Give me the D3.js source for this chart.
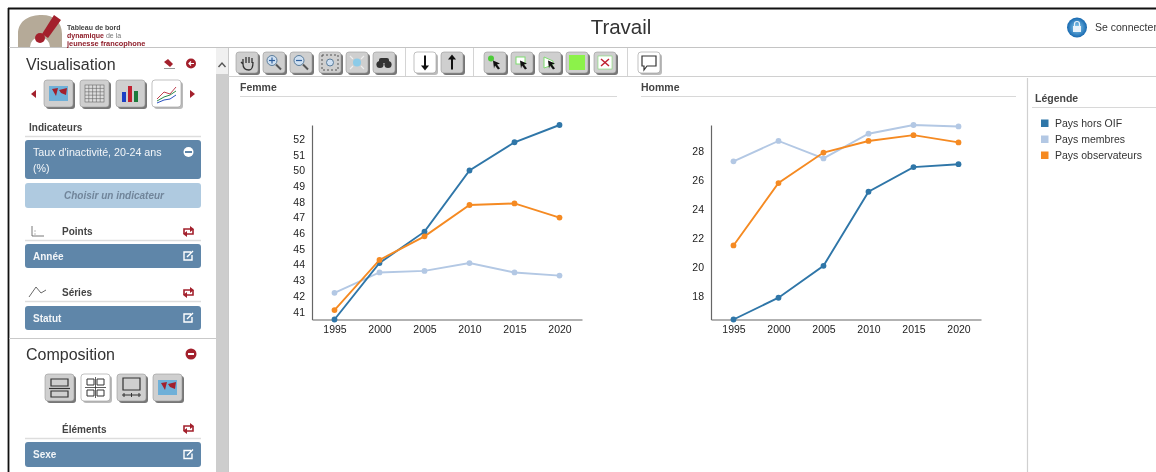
<!DOCTYPE html>
<html>
<head>
<meta charset="utf-8">
<script src="https://cdn.jsdelivr.net/npm/d3@7"></script>
<style>
html, body { margin: 0; padding: 0; background: #fff; overflow: hidden; }
svg { filter: blur(0.35px); }
text { font-family: "Liberation Sans", Arial, sans-serif; fill: #333; }
.tick text { font-size: 10.5px; fill: #222; -webkit-text-stroke: 0.25px #222; }
</style>
</head>
<body>
<script>
var width = 1156,
    height = 472;

// chart data
var years = ["1995", "2000", "2005", "2010", "2015", "2020"];
var seriesNames = ["Pays hors OIF", "Pays membres", "Pays observateurs"];
var seriesColors = ["#2f76a8", "#b3c8e4", "#f58a22"];

var femmeHors = [40.5, 44.1, 46.1, 50, 51.8, 52.9];
var femmeMembres = [42.2, 43.5, 43.6, 44.1, 43.5, 43.3];
var femmeObs = [41.1, 44.3, 45.8, 47.8, 47.9, 47];
var femmeTicks = [41, 42, 43, 44, 45, 46, 47, 48, 49, 50, 51, 52];

var hommeHors = [16.4, 17.9, 20.1, 25.2, 26.9, 27.1];
var hommeMembres = [27.3, 28.7, 27.5, 29.2, 29.8, 29.7];
var hommeObs = [21.5, 25.8, 27.9, 28.7, 29.1, 28.6];
var hommeTicks = [18, 20, 22, 24, 26, 28];

var svg = d3.select("body").append("svg")
    .attr("width", width)
    .attr("height", height)
    .style("display", "block");

// page frame
hline(8, 8.5, width, "#111", 1.8);
vline(8.5, 8, height, "#111", 1.8);
hline(9, 47.5, width, "#c4c4c4", 1.2);

// scrollbar column
rect(216, 48, 12, 26, "#f0f0f0");
rect(216, 74, 12, 398, "#cdcdcd");
vline(228.5, 48, height, "#c9c9c9", 1);
svg.append("path").attr("d", "M218.5 67 L222 63 L225.5 67")
    .attr("fill", "none").attr("stroke", "#555").attr("stroke-width", 1.4);

drawLogo();
drawTitleBar();
drawSidebar();
drawToolbar();

// the two panels
panel("Femme", 240, 617, 312, [40.5, 52.9], femmeTicks, [femmeHors, femmeMembres, femmeObs]);
panel("Homme", 641, 1016, 711, [16.4, 29.8], hommeTicks, [hommeHors, hommeMembres, hommeObs]);

// legend
vline(1027.5, 78, height, "#d0d0d0", 1.2);
label(1035, 102, "Légende", 10.5, "bold");
hline(1032, 107.5, width, "#d8d8d8", 1);
var legend = svg.append("g").selectAll("g")
    .data(seriesNames)
    .enter().append("g")
    .attr("transform", function(d, i) { return "translate(1041," + (119.5 + i * 16) + ")"; });
legend.append("rect")
    .attr("width", 7.5).attr("height", 7.5)
    .attr("fill", function(d, i) { return seriesColors[i]; });
legend.append("text")
    .attr("x", 14).attr("y", 7.5)
    .attr("font-size", 10.5)
    .text(function(d) { return d; });

function panel(title, x0, x1, axisX, domain, ticks, values) {
    var top = 125, bottom = 319.5, axisW = 270;

    label(x0, 91, title, 10.5, "bold");
    hline(x0, 96.5, x1, "#d8d8d8", 1);

    var x = d3.scalePoint().domain(years).range([axisX, axisX + axisW]).padding(0.5);
    var y = d3.scaleLinear().domain(domain).range([bottom, top]);

    var g = svg.append("g");

    g.append("g")
        .attr("transform", "translate(0," + bottom + ")")
        .call(d3.axisBottom(x).tickSize(0).tickPadding(6))
        .call(styleAxis);
    g.append("g")
        .attr("transform", "translate(" + axisX + ",0)")
        .call(d3.axisLeft(y).tickValues(ticks).tickSize(0).tickPadding(7).tickFormat(d3.format("d")))
        .call(styleAxis);

    var line = d3.line()
        .x(function(d, i) { return x(years[i]); })
        .y(function(d) { return y(d); });

    // membres first so it stays under the others
    [1, 0, 2].forEach(function(k) {
        g.append("path")
            .attr("d", line(values[k]))
            .attr("fill", "none")
            .attr("stroke", seriesColors[k])
            .attr("stroke-width", 1.9);
        g.selectAll(null)
            .data(values[k])
            .enter().append("circle")
            .attr("cx", function(d, i) { return x(years[i]); })
            .attr("cy", function(d) { return y(d); })
            .attr("r", 2.9)
            .attr("fill", seriesColors[k]);
    });
}

function styleAxis(sel) {
    sel.select(".domain").attr("stroke", "#666").attr("stroke-width", 1.2);
}

function drawLogo() {
    var g = svg.append("g");
    g.append("path")
        .attr("d", "M18 47 L18 34 C18 20 30 15 42 15 C54 15 62 22 62 34 L62 47 L50 47 A10 10 0 0 0 30 47 Z")
        .attr("fill", "#b5aa98");
    g.append("path").attr("d", "M42 34 L54 15 L61 20 L48 38 Z").attr("fill", "#a3202c");
    g.append("circle").attr("cx", 40).attr("cy", 38).attr("r", 5).attr("fill", "#a3202c");
    label(67, 30, "Tableau de bord", 7, "bold");
    var t = label(67, 37.5, "dynamique", 7, "bold").style("fill", "#8e1c28");
    t.append("tspan").attr("font-weight", "normal").style("fill", "#777").text(" de la");
    label(67, 45.5, "jeunesse francophone", 7.4, "bold").style("fill", "#8e1c28");
}

function drawTitleBar() {
    svg.append("text")
        .attr("x", 621).attr("y", 34)
        .attr("text-anchor", "middle")
        .attr("font-size", 20.5)
        .text("Travail");
    var defs = svg.append("defs").append("radialGradient").attr("id", "lock");
    defs.append("stop").attr("offset", "0%").attr("stop-color", "#8fd0f0");
    defs.append("stop").attr("offset", "100%").attr("stop-color", "#1668b0");
    svg.append("circle").attr("cx", 1077).attr("cy", 27.5).attr("r", 10).attr("fill", "url(#lock)");
    rect(1073, 26, 8, 6, "#e8f2fa");
    svg.append("path").attr("d", "M1074.5 26 V24 A2.5 2.5 0 0 1 1079.5 24 V26")
        .attr("fill", "none").attr("stroke", "#e8f2fa").attr("stroke-width", 1.2);
    label(1095, 31, "Se connecter", 10.5);
}

function drawSidebar() {
    label(26, 70, "Visualisation", 16);
    redDot(191, 63.5, 5, "left");
    svg.append("path").attr("d", "M164 62 L168 59 L173 64 L170 67 Z").attr("fill", "#a3202c");
    hline(164, 68.5, 175, "#999", 1);

    triangle(36, 94, -1);
    ["map", "table", "bars", "lines"].forEach(function(kind, i) {
        iconButton(44 + i * 36, 80, 29, 27, kind);
    });
    triangle(190, 94, 1);

    sectionHead("Indicateurs", 29, 131, 136);
    rect(25, 140, 176, 39, "#5f86a9", 3);
    whiteText(33, 156, "Taux d'inactivité, 20-24 ans").attr("font-size", 10.7);
    whiteText(33, 172, "(%)").attr("font-size", 10.7);
    svg.append("circle").attr("cx", 188.5).attr("cy", 152).attr("r", 5).attr("fill", "#fff");
    rect(185, 151, 7, 2, "#5f86a9");

    rect(25, 183, 176, 25, "#afcae0", 3);
    svg.append("text")
        .attr("x", 114).attr("y", 199)
        .attr("text-anchor", "middle")
        .attr("font-size", 10)
        .attr("font-style", "italic")
        .attr("font-weight", "bold")
        .style("fill", "#71859a")
        .text("Choisir un indicateur");

    sectionHead("Points", 62, 235, 240);
    svg.append("path").attr("d", "M32 226 V236 H44 M34.5 231 H35.5 M34.5 234 H35.5")
        .attr("fill", "none").attr("stroke", "#555").attr("stroke-width", 0.8);
    swap(189, 231);
    blueBar(244, 24, "Année");

    sectionHead("Séries", 62, 296, 301);
    svg.append("path").attr("d", "M29 297 L36 287 L41 293 L46 290")
        .attr("fill", "none").attr("stroke", "#444").attr("stroke-width", 0.8);
    swap(189, 292);
    blueBar(306, 24, "Statut");

    hline(9, 338.5, 216, "#c9c9c9", 1);

    label(26, 360, "Composition", 16);
    redDot(191, 354, 5.5, "minus");
    ["rows", "grid", "slider", "map"].forEach(function(kind, i) {
        iconButton(45 + i * 36, 374, 29, 27, kind);
    });

    sectionHead("Éléments", 62, 433, 438);
    swap(189, 428);
    blueBar(442, 25, "Sexe");
}

function drawToolbar() {
    hline(228, 76.5, width, "#d0d0d0", 1.2);
    [405, 473, 627].forEach(function(xp) { vline(xp + 0.5, 48, 76, "#d4d4d4", 1); });

    var icons = [
        [236, "hand"], [263, "plus"], [290, "minus"], [319, "zoomBox"], [346, "zoomFit"], [373, "binoc"],
        [414, "down"], [441, "up"],
        [484, "ptr1"], [511, "ptr2"], [539, "ptr3"], [566, "green"], [594, "cross"],
        [638, "bubble"]
    ];
    icons.forEach(function(d) { iconButton(d[0], 52, 22, 21, d[1]); });
}

function iconButton(x, y, w, h, kind) {
    var flat = ["down", "bubble", "lines", "grid"].indexOf(kind) >= 0;
    rect(x + 2, y + 2, w, h, flat ? "#bbb" : "#777", 3);
    rect(x, y, w, h, flat ? "#fff" : "#cfcfcf", 3).attr("stroke", "#999").attr("stroke-width", 0.6);
    var g = svg.append("g").attr("transform", "translate(" + x + "," + y + ")");
    var cx = w / 2, cy = h / 2;

    function box(bx, by, bw, bh, fill) {
        return g.append("rect").attr("x", bx).attr("y", by).attr("width", bw).attr("height", bh).attr("fill", fill);
    }
    function stroke(d, col, sw) {
        g.append("path").attr("d", d).attr("fill", "none").attr("stroke", col).attr("stroke-width", sw || 1);
    }
    function magnifier(sign) {
        g.append("circle").attr("cx", cx - 2).attr("cy", cy - 2).attr("r", 5)
            .attr("fill", "#cfe0f2").attr("stroke", "#5a7d9c").attr("stroke-width", 1);
        stroke("M" + (cx + 2) + " " + (cy + 2) + " L" + (cx + 7) + " " + (cy + 7), "#555", 2);
        stroke("M" + (cx - 5) + " " + (cy - 2) + " H" + (cx + 1), "#2f5f9c", 1.2);
        if (sign) stroke("M" + (cx - 2) + " " + (cy - 5) + " V" + (cy + 1), "#2f5f9c", 1.2);
    }
    function pointer(col) {
        if (col) g.append("circle").attr("cx", cx - 4).attr("cy", cy - 4).attr("r", 3).attr("fill", col);
        g.append("path").attr("d", "M" + (cx - 2) + " " + (cy - 2) + " l7 3 -3 1 3 4 -2 1 -3 -4 -1 3 Z").attr("fill", "#111");
    }

    if (kind === "map") {
        box(5, 6, w - 10, h - 12, "#6fb0d8");
        g.append("path").attr("d", "M8 9 L14 8 L12 16 Z M15 10 L23 8 L22 15 L17 13 Z").attr("fill", "#a3202c");
    } else if (kind === "table") {
        box(5, 5, w - 10, h - 10, "#ddd").attr("stroke", "#666").attr("stroke-width", 0.6);
        d3.range(1, 5).forEach(function(i) { stroke("M" + (5 + i * 3.8) + " 5 V" + (h - 5), "#666", 0.6); });
        d3.range(1, 5).forEach(function(i) { stroke("M5 " + (5 + i * 3.4) + " H" + (w - 5), "#666", 0.6); });
    } else if (kind === "bars") {
        box(6, 12, 4, 10, "#1c3fc4");
        box(12, 6, 4, 16, "#c02030");
        box(18, 11, 4, 11, "#1c7a3a");
    } else if (kind === "lines") {
        stroke("M5 19 L12 12 L18 14 L24 7", "#c04050", 1);
        stroke("M5 21 L12 17 L18 15 L24 11", "#2a8a4a", 1);
        stroke("M5 23 L12 20 L18 19 L24 15", "#2a50c0", 1);
    } else if (kind === "rows") {
        stroke("M6 5 H23 V12 H6 Z M6 17 H23 V23 H6 Z", "#333", 1.2);
        stroke("M4 14.5 H25", "#333", 1.2);
    } else if (kind === "grid") {
        stroke("M6 5 H13 V11 H6 Z M16 5 H23 V11 H16 Z M6 16 H13 V22 H6 Z M16 16 H23 V22 H16 Z", "#333", 1);
        stroke("M14.5 3 V24 M4 13.5 H25", "#333", 0.8);
    } else if (kind === "slider") {
        stroke("M6 4 H23 V16 H6 Z", "#333", 1.2);
        stroke("M5 21 H24 M7 19 V23 M14.5 19 V23 M22 19 V23", "#333", 1);
    } else if (kind === "hand") {
        stroke("M7 12 V7 M10 11 V5 M13 11 V5 M16 11 V6 M7 12 L5 10 M7 12 C7 17 10 18 13 18 C16 18 17 15 17 10", "#333", 1.3);
    } else if (kind === "plus") {
        magnifier(true);
    } else if (kind === "minus") {
        magnifier(false);
    } else if (kind === "zoomBox") {
        g.append("rect").attr("x", 3).attr("y", 3).attr("width", w - 6).attr("height", h - 6)
            .attr("fill", "none").attr("stroke", "#555").attr("stroke-dasharray", "2,2");
        g.append("circle").attr("cx", cx).attr("cy", cy).attr("r", 3.5).attr("fill", "#cfe0f2").attr("stroke", "#5a7d9c");
    } else if (kind === "zoomFit") {
        g.append("circle").attr("cx", cx).attr("cy", cy).attr("r", 4).attr("fill", "#8ccbe8");
        stroke("M4 4 L7 7 M18 4 L15 7 M4 17 L7 14 M18 17 L15 14", "#eee", 1.2);
    } else if (kind === "binoc") {
        g.append("circle").attr("cx", 7).attr("cy", 12.5).attr("r", 3.6).attr("fill", "#333");
        g.append("circle").attr("cx", 15).attr("cy", 12.5).attr("r", 3.6).attr("fill", "#333");
        box(6, 6, 10, 5, "#333").attr("rx", 2);
    } else if (kind === "down" || kind === "up") {
        var d = kind === "down" ? 1 : -1;
        stroke("M" + cx + " " + (cy - 7 * d) + " V" + (cy + 4 * d), "#111", 2);
        g.append("path").attr("d", "M" + (cx - 4) + " " + (cy + 3 * d) + " H" + (cx + 4) + " L" + cx + " " + (cy + 8 * d) + " Z").attr("fill", "#111");
    } else if (kind === "ptr1") {
        pointer("#4ecb3a");
    } else if (kind === "ptr2") {
        g.append("rect").attr("x", 5).attr("y", 5).attr("width", 9).attr("height", 7).attr("fill", "#fff").attr("stroke", "#7fdc70");
        pointer(null);
    } else if (kind === "ptr3") {
        g.append("path").attr("d", "M5 5 L14 9 V13 L5 16 Z").attr("fill", "#fff").attr("stroke", "#7fdc70");
        pointer(null);
    } else if (kind === "green") {
        box(3, 3, w - 6, h - 6, "#8cf24a");
    } else if (kind === "cross") {
        box(4, 4, w - 8, h - 8, "#fff").attr("stroke", "#7fdc70").attr("stroke-width", 0.6);
        stroke("M7 7 L15 14 M15 7 L7 14", "#c02030", 1.5);
    } else if (kind === "bubble") {
        stroke("M4 4 H18 V14 H9 L6 18 V14 H4 Z", "#333", 1.2);
    }
}

function sectionHead(txt, x, y, lineY) {
    label(x, y, txt, 10, "bold");
    hline(25, lineY + 0.5, 201, "#ddd", 1.4);
}

function blueBar(y, h, txt) {
    var m = y + h / 2;
    rect(25, y, 176, h, "#5f86a9", 3);
    whiteText(33, m + 3.5, txt).attr("font-weight", "bold");
    // edit icon: open box with a pen
    svg.append("path")
        .attr("d", "M191 " + (m - 4) + " H184 V" + (m + 4) + " H192 V" + (m - 1) + " M187 " + (m + 1) + " L193 " + (m - 5))
        .attr("fill", "none").attr("stroke", "#fff").attr("stroke-width", 1.4);
}

function swap(x, y) {
    // two little arrows chasing each other
    var g = svg.append("g").attr("transform", "translate(" + x + "," + y + ")");
    g.append("path").attr("d", "M-5 3 V-2 H2 M4 -2 V3 H-3")
        .attr("fill", "none").attr("stroke", "#a3202c").attr("stroke-width", 1.6);
    g.append("path").attr("d", "M1 -5 L5 -2 L1 1 Z M-2 0 L-6 3 L-2 6 Z").attr("fill", "#a3202c");
}

function redDot(x, y, r, kind) {
    svg.append("circle").attr("cx", x).attr("cy", y).attr("r", r).attr("fill", "#a3202c");
    if (kind === "minus") rect(x - 3, y - 1, 6, 2, "#fff");
    else svg.append("path").attr("d", "M" + (x + 3) + " " + y + " H" + (x - 2) + " M" + x + " " + (y - 2) + " L" + (x - 2) + " " + y + " L" + x + " " + (y + 2))
        .attr("fill", "none").attr("stroke", "#fff").attr("stroke-width", 1.2);
}

function triangle(x, y, dir) {
    svg.append("path")
        .attr("d", "M" + x + " " + (y - 4) + " V" + (y + 4) + " L" + (x + dir * 5) + " " + y + " Z")
        .attr("fill", "#a3202c");
}

function whiteText(x, y, txt) {
    return svg.append("text")
        .attr("x", x).attr("y", y)
        .attr("font-size", 10)
        .style("fill", "#f2f5f8")
        .text(txt);
}

function label(x, y, txt, size, cls) {
    return svg.append("text")
        .attr("x", x).attr("y", y)
        .attr("font-size", size)
        .attr("font-weight", cls === "bold" ? "bold" : null)
        .style("fill", cls === "bold" ? "#444" : "#333")
        .text(txt);
}

function rect(x, y, w, h, fill, rx) {
    return svg.append("rect")
        .attr("x", x).attr("y", y)
        .attr("width", w).attr("height", h)
        .attr("rx", rx || 0)
        .attr("fill", fill);
}

function hline(x0, y, x1, col, sw) {
    svg.append("line").attr("x1", x0).attr("x2", x1).attr("y1", y).attr("y2", y)
        .attr("stroke", col).attr("stroke-width", sw);
}

function vline(x, y0, y1, col, sw) {
    svg.append("line").attr("x1", x).attr("x2", x).attr("y1", y0).attr("y2", y1)
        .attr("stroke", col).attr("stroke-width", sw);
}
</script>
</body>
</html>
